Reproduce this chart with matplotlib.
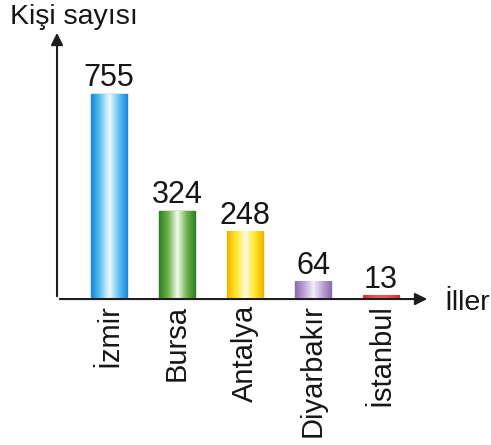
import numpy as np
import matplotlib
matplotlib.use("Agg")
import matplotlib.pyplot as plt
from matplotlib.colors import LinearSegmentedColormap

plt.rcParams['font.family'] = ['Liberation Sans', 'DejaVu Sans']

iller = ['İzmir', 'Bursa', 'Antalya', 'Diyarbakır', 'İstanbul']
kisi = [755, 324, 248, 64, 13]
# bar colours: outer edge, middle tone, highlight
kenar = ['#1a86dc', '#2f7f22', '#f2b400', '#8a6cb0', '#e52a2a']
orta = ['#62c4f2', '#72b44e', '#ffe82a', '#bda4d8', '#f04a4a']
parlak = ['#f2fbff', '#f4fbef', '#fffbe6', '#f4eefa', '#f25a5a']

fig = plt.figure(figsize=(4.91, 4.45), dpi=100)
ax = fig.add_axes([0.1161, 0.328, 0.7597, 0.6045])
ax.set_xlim(-0.765, 4.72)
ax.set_ylim(0, 991)

x = np.arange(len(iller))
bars = ax.bar(x, kisi, width=0.54, color=kenar, edgecolor=kenar, linewidth=1, zorder=2)

for b, k, o, p in zip(bars, kenar, orta, parlak):
    cmap = LinearSegmentedColormap.from_list('g', [k, o, p, o, k])
    grad = np.linspace(0, 1, 64).reshape(1, -1)
    x0 = b.get_x()
    ax.imshow(grad, cmap=cmap, aspect='auto', zorder=3,
              extent=(x0, x0 + b.get_width(), 0, b.get_height()))
    ax.text(b.get_x() + b.get_width() / 2, b.get_height() + 3, str(int(b.get_height())),
            ha='center', va='bottom', fontsize=22, color='#161616', zorder=4)

ax.set_xlim(-0.765, 4.72)
ax.set_ylim(0, 991)

for s in ax.spines.values():
    s.set_visible(False)
ax.set_yticks([])
ax.set_xticks(x)
ax.set_xticklabels(iller, rotation=90, fontsize=21, color='#161616')
ax.tick_params(axis='x', length=0, pad=4)

ax.annotate('', xy=(0, 1), xytext=(0, 0), xycoords='axes fraction',
            arrowprops=dict(arrowstyle='-|>', color='#1e1e1e', lw=1.5, mutation_scale=18))
ax.annotate('', xy=(1, 0), xytext=(0, 0), xycoords='axes fraction',
            arrowprops=dict(arrowstyle='-|>', color='#1e1e1e', lw=1.5, mutation_scale=18))

fig.text(10 / 491, 1 - 4 / 445, 'Kişi sayısı', ha='left', va='top', fontsize=20.5, color='#161616')
fig.text(444 / 491, 1 - 303 / 445, 'İller', ha='left', va='center', fontsize=20.5, color='#161616')

fig.savefig('out.png', dpi=100)
